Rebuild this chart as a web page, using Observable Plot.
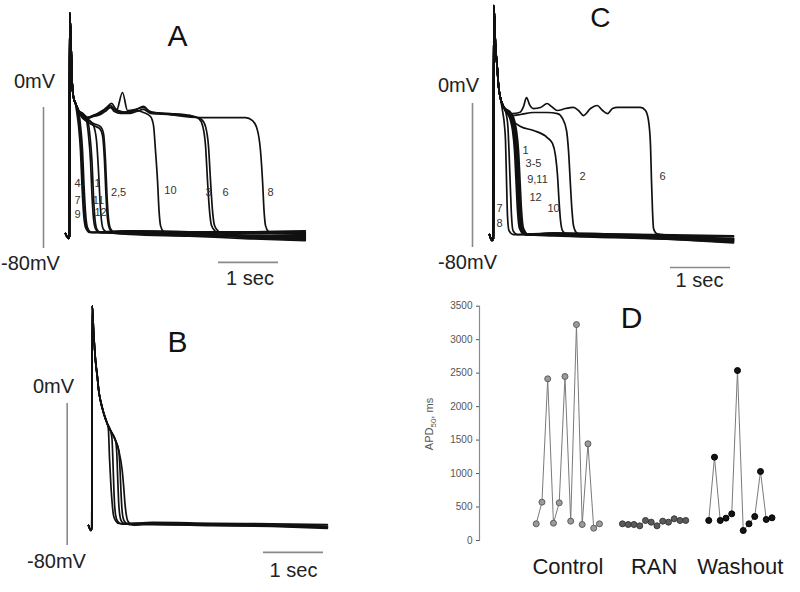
<!DOCTYPE html>
<html><head><meta charset="utf-8">
<script src="https://cdn.jsdelivr.net/npm/d3@7"></script>
<script src="https://cdn.jsdelivr.net/npm/@observablehq/plot@0.6"></script>
<style>
body{margin:0;background:#fff;}
#fig{position:relative;width:800px;height:592px;overflow:hidden;font-family:"Liberation Sans",Arial,sans-serif;}
#fig > div{position:absolute;}
</style></head><body>
<div id="fig">
  <div id="pA" style="left:0;top:0"></div>
  <div id="pC" style="left:400px;top:0"></div>
  <div id="pB" style="left:0;top:290px"></div>
  <div id="pD" style="left:400px;top:290px"></div>
</div>
<script>
// ---------- Panel A (control): time in s, membrane potential in mV ----------
const headA = [[-0.067,-71.5],[-0.017,-74.3],[-0.002,-73.2],[0.003,53.9],[0.028,32.3],[0.045,13.6],[0.067,5.7],[0.1,2.3]];
const tracesA = [
 {id:"1", pts:[[0.15,-1.7],[0.217,-4.0],[0.283,-7.4],[0.317,-15.9],[0.35,-30.1],[0.375,-49.9],[0.4,-63],[0.433,-68.7],[0.5,-70.9],[1,-70.5],[2,-71.5],[3,-71.5],[3.93,-71.5]]},
 {id:"11", pts:[[0.15,-1.7],[0.233,-4.5],[0.308,-7.9],[0.342,-16.5],[0.375,-30.6],[0.4,-50.5],[0.425,-63.5],[0.458,-69.2],[0.517,-70.9],[1,-71],[2,-71],[3,-70.8],[3.93,-70.5]]},
 {id:"12", pts:[[0.15,-1.7],[0.217,-4],[0.317,-6.8],[0.4,-10.2],[0.45,-18.7],[0.483,-35.7],[0.508,-52.8],[0.533,-64.1],[0.567,-69.2],[0.633,-70.9],[1,-72],[2,-73],[3,-74.5],[3.93,-75.5]]},
 {id:"4", pts:[[0.133,-1.7],[0.167,-10.2],[0.2,-24.4],[0.225,-44.3],[0.25,-59.6],[0.283,-68.1],[0.35,-70.9],[1,-70],[2,-70.5],[3,-70.5],[3.93,-70]]},
 {id:"7", pts:[[0.15,-1.7],[0.183,-10.2],[0.217,-24.4],[0.242,-44.3],[0.267,-59.6],[0.3,-68.1],[0.367,-70.9],[1,-71.5],[2,-72.5],[3,-73.5],[3.93,-74.5]]},
 {id:"9", pts:[[0.117,-1.7],[0.15,-10.2],[0.183,-24.4],[0.208,-44.3],[0.233,-59.6],[0.267,-68.1],[0.333,-70.9],[1,-70],[2,-70.5],[3,-71],[3.93,-71]]},
 {id:"2", pts:[[0.183,-4.5],[0.283,-7.9],[0.4,-10.2],[0.5,-11.9],[0.55,-15.9],[0.583,-30.1],[0.608,-49.9],[0.633,-63],[0.667,-68.7],[0.733,-70.9],[1,-71],[2,-72],[3,-72.5],[3.93,-73]]},
 {id:"5", pts:[[0.183,-4],[0.283,-6.8],[0.4,-9.1],[0.517,-10.8],[0.567,-14.8],[0.6,-30.1],[0.625,-49.9],[0.65,-63],[0.683,-68.7],[0.75,-70.9],[1,-71.5],[2,-72.5],[3,-73.5],[3.93,-74]]},
 {id:"10", pts:[[0.15,-1.7],[0.217,-3.4],[0.3,-5.7],[0.4,-4.5],[0.517,-3.4],[0.617,-0.6],[0.683,1.1],[0.75,-1.1],[0.85,-2.8],[0.983,-2.3],[1.117,-1.7],[1.233,-2.8],[1.35,-5.1],[1.4,-10.2],[1.433,-24.4],[1.467,-41.4],[1.492,-58.4],[1.517,-67],[1.567,-70.4],[1.65,-71.5],[2,-72],[3,-73],[3.93,-73.5]]},
 {id:"3", pts:[[0.15,-1.7],[0.217,-3.4],[0.3,-5.7],[0.4,-4.5],[0.517,-2.8],[0.617,0],[0.7,2.3],[0.767,-0.6],[0.867,-2.3],[1.0,-2.8],[1.117,-1.1],[1.233,0.6],[1.35,-2.8],[1.683,-3.4],[2.017,-4.5],[2.15,-6.2],[2.217,-10.2],[2.267,-21.6],[2.3,-41.4],[2.333,-58.4],[2.367,-67],[2.433,-70.4],[2.517,-71.5],[3,-72.5],[3.93,-72.5]]},
 {id:"6", pts:[[0.15,-1.7],[0.217,-3.4],[0.3,-6.2],[0.4,-5.1],[0.517,-4],[0.617,-1.7],[0.683,0],[0.75,-2.3],[0.85,-3.4],[1.0,-3.4],[1.117,-2.3],[1.233,-1.1],[1.35,-3.4],[1.683,-4],[2.067,-5.1],[2.2,-6.8],[2.267,-10.8],[2.317,-22.1],[2.35,-41.4],[2.383,-58.4],[2.417,-67],[2.483,-70.4],[2.567,-71.5],[3,-74],[3.93,-75]]},
 {id:"8", pts:[[0.15,-1.7],[0.217,-3.4],[0.3,-5.7],[0.433,-4],[0.583,-1.1],[0.683,0],[0.783,-1.7],[0.883,8.5],[0.967,-1.7],[1.1,-1.1],[1.233,0],[1.35,-2.3],[1.683,-4],[2.183,-5.7],[2.683,-5.7],[2.933,-5.7],[3.05,-7.4],[3.133,-13],[3.183,-24.4],[3.217,-41.4],[3.242,-58.4],[3.267,-67],[3.317,-70.4],[3.4,-71.5],[3.93,-72]]}
];
const labelsA = [
 {text:"4",t:0.133,v:-43.1},{text:"7",t:0.133,v:-52.8},{text:"9",t:0.133,v:-60.7},
 {text:"1",t:0.467,v:-43.1},{text:"11",t:0.483,v:-52.8},{text:"12",t:0.517,v:-59.6},
 {text:"2,5",t:0.817,v:-48.2},{text:"10",t:1.683,v:-47.1},{text:"3",t:2.317,v:-48.2},
 {text:"6",t:2.6,v:-48.2},{text:"8",t:3.35,v:-48.2}
];
const voltBarA = [{t:-0.433, v1:0, v2:-80}];
const timeBarA = [{t1:2.483, t2:3.483, v:-87.9}];
const unitsA = [{text:"0mV",t:-0.583,v:14.8},{text:"-80mV",t:-0.65,v:-88.5},{text:"1 sec",t:3.008,v:-97.3}];
const titleA = [{text:"A",t:1.8,v:40.3}];

// ---------- Panel C (washout) ----------
const headC = [[-0.067,-72.8],[-0.025,-76.1],[-0.003,-75],[0.005,54.4],[0.033,32.2],[0.062,20],[0.083,10],[0.117,2.8]];
const tracesC = [
 {id:"7", pts:[[0.15,-3.9],[0.183,-12.2],[0.2,-20.6],[0.217,-42.8],[0.233,-62.2],[0.258,-70.6],[0.333,-72.8],[1,-72],[2,-72.5],[3,-73],[4,-73.5]]},
 {id:"8", pts:[[0.167,-1.7],[0.217,-6.7],[0.242,-13.9],[0.258,-26.1],[0.283,-48.3],[0.3,-62.2],[0.325,-70.6],[0.4,-72.8],[1,-73],[2,-74],[3,-75.5],[4,-77.5]]},
 {id:"1", pts:[[0.167,-1.7],[0.233,-5.6],[0.283,-9.4],[0.317,-15],[0.35,-26.1],[0.375,-42.8],[0.4,-59.4],[0.433,-69.4],[0.517,-72.8],[1,-72.5],[2,-73.5],[3,-74],[4,-75]]},
 {id:"3", pts:[[0.167,-1.7],[0.25,-5.6],[0.3,-9.4],[0.333,-15],[0.367,-26.1],[0.392,-42.8],[0.417,-59.4],[0.45,-69.4],[0.533,-72.8],[1,-73],[2,-74],[3,-75],[4,-76.5]]},
 {id:"4", pts:[[0.167,-1.7],[0.267,-5.6],[0.317,-9.4],[0.35,-15],[0.383,-26.1],[0.408,-42.8],[0.433,-59.4],[0.467,-69.4],[0.55,-72.8],[1,-72],[2,-72.5],[3,-73.5],[4,-74]]},
 {id:"5", pts:[[0.167,-1.7],[0.258,-5.6],[0.308,-9.4],[0.342,-15],[0.375,-26.1],[0.4,-42.8],[0.425,-59.4],[0.458,-69.4],[0.542,-72.8],[1,-73.5],[2,-74.5],[3,-75.5],[4,-77]]},
 {id:"9", pts:[[0.167,-1.7],[0.283,-5.6],[0.333,-9.4],[0.367,-15],[0.4,-26.1],[0.425,-42.8],[0.45,-59.4],[0.483,-69.4],[0.567,-72.8],[1,-72.5],[2,-73],[3,-74.5],[4,-75]]},
 {id:"11", pts:[[0.167,-1.7],[0.275,-5.6],[0.325,-9.4],[0.358,-15],[0.392,-26.1],[0.417,-42.8],[0.442,-59.4],[0.475,-69.4],[0.558,-72.8],[1,-73],[2,-73.5],[3,-74],[4,-75.5]]},
 {id:"12", pts:[[0.167,-1.7],[0.3,-5.6],[0.35,-9.4],[0.383,-15],[0.417,-26.1],[0.442,-42.8],[0.467,-59.4],[0.5,-69.4],[0.583,-72.8],[1,-72],[2,-74],[3,-75],[4,-76.5]]},
 {id:"10", pts:[[0.167,-1.7],[0.233,-5.6],[0.333,-10],[0.45,-12.8],[0.667,-15],[0.895,-18.9],[0.983,-22.2],[1.033,-28.9],[1.067,-40],[1.092,-53.9],[1.117,-65],[1.15,-70.6],[1.233,-72.8],[2,-73.5],[3,-74],[4,-76]]},
 {id:"2", pts:[[0.167,-1.7],[0.233,-5.6],[0.317,-6.7],[0.45,-6.1],[0.667,-5],[0.9,-5],[1.067,-5.6],[1.15,-8.3],[1.217,-15],[1.25,-26.1],[1.283,-45.6],[1.308,-59.4],[1.333,-67.8],[1.383,-71.7],[1.467,-72.8],[2,-73],[3,-74.5],[4,-76]]},
 {id:"6", pts:[[0.167,-1.7],[0.233,-5.6],[0.317,-5.6],[0.433,-5],[0.5,-1.7],[0.55,3.3],[0.6,-0.6],[0.667,-2.8],[0.783,-2.2],[0.895,0],[0.967,-1.7],[1.067,-3.9],[1.2,-2.8],[1.333,-2.2],[1.417,-3.9],[1.5,-6.7],[1.617,-2.8],[1.728,-1.1],[1.817,-3.9],[1.9,-5.6],[1.983,-2.8],[2.067,-2.2],[2.45,-2.2],[2.533,-3.9],[2.583,-9.4],[2.617,-23.3],[2.633,-42.8],[2.65,-59.4],[2.667,-69.4],[2.717,-72.2],[2.817,-72.8],[3,-74],[4,-75.5]]}
];
const labelsC = [
 {text:"1",t:0.533,v:-26.1},{text:"3-5",t:0.667,v:-33.3},{text:"9,11",t:0.733,v:-42.2},
 {text:"12",t:0.7,v:-52.2},{text:"10",t:1.0,v:-58.3},{text:"2",t:1.483,v:-40.6},
 {text:"6",t:2.817,v:-40.6},{text:"7",t:0.1,v:-58.3},{text:"8",t:0.1,v:-66.7}
];
const voltBarC = [{t:-0.35, v1:0, v2:-80}];
const timeBarC = [{t1:2.95, t2:3.95, v:-91.1}];
const unitsC = [{text:"0mV",t:-0.583,v:10},{text:"-80mV",t:-0.433,v:-88.3},{text:"1 sec",t:3.433,v:-98.3}];
const titleC = [{text:"C",t:1.783,v:47.5}];

// ---------- Panel B (ranolazine) ----------
const headB = [[-0.062,-68.7],[-0.02,-71.5],[-0.007,-69.9],[0,55.2],[0.022,41.1],[0.055,24.2],[0.083,15.8],[0.113,6.2],[0.138,1.7],[0.193,-5.6],[0.25,-11.3]];
const tracesB = [
 {id:"b1", pts:[[0.27,-14.6],[0.288,-30.4],[0.31,-45],[0.333,-56.3],[0.355,-63],[0.388,-65.9],[0.45,-67.6],[1,-67.5],[2,-68],[3,-68.5],[3.92,-69]]},
 {id:"b2", pts:[[0.305,-15.2],[0.33,-20],[0.345,-32],[0.36,-47],[0.375,-58],[0.4,-64.5],[0.44,-67],[0.5,-68],[1,-68],[2,-68.5],[3,-69],[3.92,-69.8]]},
 {id:"b3", pts:[[0.305,-15.2],[0.388,-20.8],[0.41,-28],[0.425,-42],[0.44,-55],[0.46,-63],[0.49,-66.5],[0.55,-67.8],[1,-67],[2,-67.5],[3,-67.8],[3.92,-68.2]]},
 {id:"b4", pts:[[0.305,-15.2],[0.388,-20.8],[0.443,-26.5],[0.465,-38],[0.48,-50],[0.495,-59],[0.515,-64.5],[0.55,-67],[0.62,-68.2],[1,-68.2],[2,-68.8],[3,-69.3],[3.92,-70.3]]},
 {id:"b5", pts:[[0.305,-15.2],[0.388,-20.8],[0.443,-26.5],[0.5,-37.7],[0.525,-47],[0.545,-56],[0.565,-62],[0.59,-66],[0.63,-67.6],[0.7,-68.5],[1,-67.5],[2,-68],[3,-68.5],[3.92,-69.5]]}
];
const voltBarB = [{t:-0.417, v1:0, v2:-80}];
const timeBarB = [{t1:2.855, t2:3.855, v:-83.9}];
const unitsB = [{text:"0mV",t:-0.645,v:9.6},{text:"-80mV",t:-0.595,v:-89},{text:"1 sec",t:3.355,v:-94.1}];
const titleB = [{text:"B",t:1.422,v:34.4}];

// ---------- Panel D: APD50 (ms) per beat ----------
const groups = ["Control","RAN","Washout"];
const controlAPD = [249,573,2415,259,563,2450,289,3226,239,1444,184,249];
const ranAPD     = [249,239,239,219,299,274,219,289,274,324,299,299];
const washoutAPD = [299,1245,299,334,398,2539,149,249,358,1031,314,339];
const apdTicks = [0,500,1000,1500,2000,2500,3000,3500];
const titleD = [{text:"D", beat:16.6, apd:3316}];

// ---------- rendering ----------
const FONT = "Liberation Sans, Arial, sans-serif";
function rows(head, traces){
  return traces.flatMap(tr => [...head, ...tr.pts].map(([t,v]) => ({id:tr.id, t, v})));
}
function tracePanel(cfg){
  return Plot.plot({
    width:400, height:cfg.height, margin:0,
    style:{fontFamily:FONT, background:"transparent"},
    x:{domain:[0,1], range:cfg.xr, axis:null},
    y:{domain:[0,-80], range:cfg.yr, axis:null},
    marks:[
      Plot.ruleX(cfg.vbar, {x:"t", y1:"v1", y2:"v2", stroke:"#8a8a8a", strokeWidth:1.6}),
      Plot.ruleY(cfg.tbar, {y:"v", x1:"t1", x2:"t2", stroke:"#8a8a8a", strokeWidth:1.6}),
      Plot.line(rows(cfg.head, cfg.traces), {x:"t", y:"v", z:"id", stroke:"#111", strokeWidth:1.7, curve:"monotone-x"}),
      Plot.text(cfg.labels || [], {x:"t", y:"v", text:"text", fontSize:11, fill:"#333"}),
      Plot.text(cfg.units, {x:"t", y:"v", text:"text", fontSize:20, fill:"#222"}),
      Plot.text(cfg.title, {x:"t", y:"v", text:"text", fontSize:cfg.titleSize || 30, fill:"#111"})
    ]
  });
}
document.getElementById("pA").append(tracePanel({height:290, xr:[69,129], yr:[107,248], head:headA, traces:tracesA, labels:labelsA, vbar:voltBarA, tbar:timeBarA, units:unitsA, title:titleA}));
document.getElementById("pC").append(tracePanel({height:290, xr:[93,153], yr:[103,247], head:headC, traces:tracesC, labels:labelsC, vbar:voltBarC, tbar:timeBarC, units:unitsC, title:titleC, titleSize:28}));
document.getElementById("pB").append(tracePanel({height:302, xr:[91.7,151.7], yr:[113,255], head:headB, traces:tracesB, labels:[], vbar:voltBarB, tbar:timeBarB, units:unitsB, title:titleB}));

const series = [controlAPD, ranAPD, washoutAPD];
const apdRows = series.flatMap((arr, g) => arr.map((apd, i) => ({group:groups[g], beat:15*g + i, apd})));
const centers = new Map(groups.map((name, g) => [15*g + 5.5, name]));
const fills = {Control:"#9a9a9a", RAN:"#5a5a5a", Washout:"#141414"};
const strokes = {Control:"#5e5e5e", RAN:"#3a3a3a", Washout:"#000"};
const pD = Plot.plot({
  width:400, height:302, marginLeft:79, marginTop:15.7, marginBottom:52, marginRight:0,
  style:{fontFamily:FONT, background:"transparent"},
  x:{domain:[0,41], range:[135.7,371.5]},
  y:{domain:[0,3500]},
  marks:[
    Plot.frame({anchor:"left", stroke:"#8a8a8a", strokeWidth:1.2}),
    Plot.axisY({ticks:apdTicks, tickFormat:d => String(d), tickSize:3, tickPadding:4, fontSize:10, color:"#555", label:null}),
    Plot.axisX({ticks:[...centers.keys()], tickFormat:d => centers.get(d), tickSize:0, tickPadding:18, fontSize:22, color:"#1a1a1a", label:null}),
    Plot.line(apdRows, {x:"beat", y:"apd", z:"group", stroke:"#7a7a7a", strokeWidth:1}),
    Plot.dot(apdRows, {x:"beat", y:"apd", r:3, fill:d => fills[d.group], stroke:d => strokes[d.group], strokeWidth:1}),
    Plot.text(titleD, {x:"beat", y:"apd", text:"text", fontSize:30, fill:"#111"})
  ]
});
document.getElementById("pD").append(pD);
const lab = d3.select(pD).append("text")
  .attr("transform","translate(33,134) rotate(-90)")
  .attr("text-anchor","middle").attr("fill","#555")
  .attr("font-size",11).attr("font-family",FONT);
lab.append("tspan").text("APD");
lab.append("tspan").attr("font-size",8).attr("dy",3).text("50");
lab.append("tspan").attr("dy",-3).text(", ms");
</script>
</body></html>
